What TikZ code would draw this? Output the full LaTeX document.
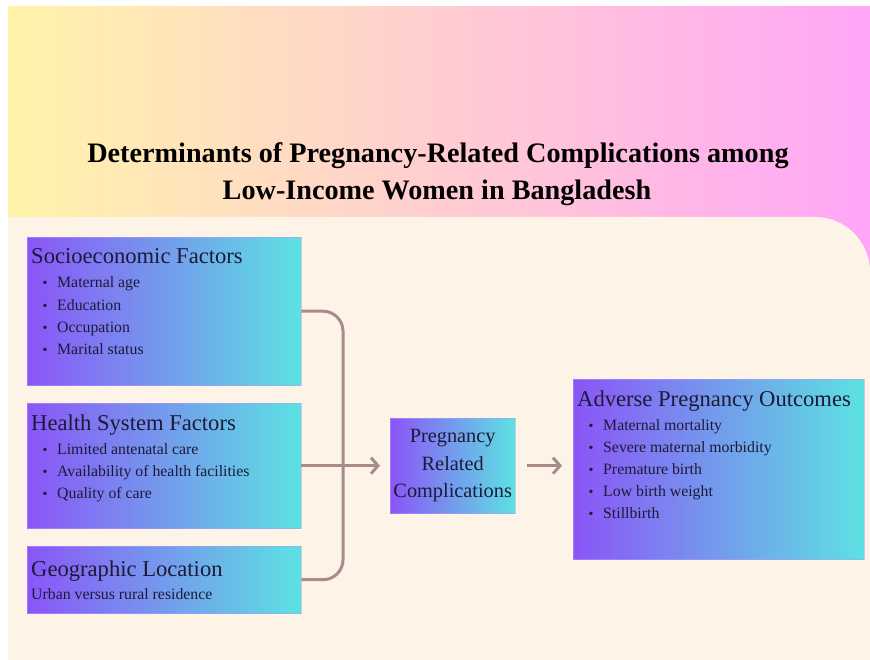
\documentclass[tikz,border=0pt]{standalone}
\usepackage{fontspec}
\setmainfont{Liberation Serif}
\usetikzlibrary{arrows.meta}

\definecolor{BandYellow}{HTML}{FFF4AA}
\definecolor{BandPeach}{HTML}{FFD3CC}
\definecolor{BandPink}{HTML}{FFA6F7}
\definecolor{PanelCream}{HTML}{FDF3E7}
\definecolor{BoxPurple}{HTML}{8B55F7}
\definecolor{BoxCyan}{HTML}{5CE2E2}
\definecolor{LinkBrown}{HTML}{A88C8C}
\definecolor{InkNavy}{HTML}{1C1A38}

\begin{document}
\begin{tikzpicture}[x=1pt,y=-1pt]
\useasboundingbox (0,0) rectangle (870,660);
\fill[white] (0,0) rectangle (870,660);

\coordinate (BandNW) at (8,7);
\coordinate (BandSE) at (870,270);
\coordinate (S_1) at (27,237);
\coordinate (H_1) at (27,403);
\coordinate (G_1) at (27,546);
\coordinate (C_1) at (390,418);
\coordinate (A_1) at (573,379);
\coordinate (Spine) at (343,465);


\shade[left color=BandYellow, middle color=BandPeach, right color=BandPink] (BandNW) rectangle (BandSE);
\fill[PanelCream] (8,660) -- (8,217) [rounded corners=55pt] -- (870,217) [sharp corners] -- (870,660) -- cycle;

\node[font=\fontsize{28.2}{34}\selectfont\bfseries, anchor=base] (T1) at (438,163) {Determinants of Pregnancy-Related Complications among};
\node[font=\fontsize{28.2}{34}\selectfont\bfseries, anchor=base] (T2) at (437,200) {Low-Income Women in Bangladesh};


\tikzset{BoxStyle/.style = {
 left color = BoxPurple,
 right color = BoxCyan,
 draw = white!40!BoxPurple,
 draw opacity = 0.5,
 line width = 0.4pt,
 anchor = north west,
 inner sep = 0pt,
 text = InkNavy} }
\tikzset{HeadStyle/.style = {font=\fontsize{22.6}{26}\selectfont, text=InkNavy, anchor=base west, inner sep=0pt} }
\tikzset{ItemStyle/.style = {font=\fontsize{15.8}{22}\selectfont, text=InkNavy, anchor=base west, inner sep=0pt} }
\tikzset{DotStyle/.style = {font=\fontsize{14}{22}\selectfont, text=InkNavy, anchor=base, inner sep=0pt} }

\node[BoxStyle, minimum width=274pt, minimum height=148pt] (socio) at (S_1) {};
\node[BoxStyle, minimum width=274pt, minimum height=125pt] (health) at (H_1) {};
\node[BoxStyle, minimum width=274pt, minimum height=67pt] (geo) at (G_1) {};
\node[BoxStyle, minimum width=125pt, minimum height=95pt, align=center,
 font=\fontsize{20.3}{27.5}\selectfont] (comp) at (C_1) {Pregnancy\\Related\\Complications};
\node[BoxStyle, minimum width=291pt, minimum height=180pt] (adverse) at (A_1) {};

\node[HeadStyle] (SH) at (31,264) {Socioeconomic Factors};
\node[DotStyle] (SD1) at (45,288) {\textbullet};
\node[ItemStyle] (SI1) at (57,288) {Maternal age};
\node[DotStyle] (SD2) at (45,310) {\textbullet};
\node[ItemStyle] (SI2) at (57,310) {Education};
\node[DotStyle] (SD3) at (45,332) {\textbullet};
\node[ItemStyle] (SI3) at (57,332) {Occupation};
\node[DotStyle] (SD4) at (45,354) {\textbullet};
\node[ItemStyle] (SI4) at (57,354) {Marital status};

\node[HeadStyle] (HH) at (31,430) {Health System Factors};
\node[DotStyle] (HD1) at (45,454) {\textbullet};
\node[ItemStyle] (HI1) at (57,454) {Limited antenatal care};
\node[DotStyle] (HD2) at (45,476) {\textbullet};
\node[ItemStyle] (HI2) at (57,476) {Availability of health facilities};
\node[DotStyle] (HD3) at (45,498) {\textbullet};
\node[ItemStyle] (HI3) at (57,498) {Quality of care};

\node[HeadStyle] (GH) at (31,576) {Geographic Location};
\node[ItemStyle] (GI1) at (31,599) {Urban versus rural residence};

\node[HeadStyle] (AH) at (577,406) {Adverse Pregnancy Outcomes};
\node[DotStyle] (AD1) at (591,430) {\textbullet};
\node[ItemStyle] (AI1) at (603,430) {Maternal mortality};
\node[DotStyle] (AD2) at (591,452) {\textbullet};
\node[ItemStyle] (AI2) at (603,452) {Severe maternal morbidity};
\node[DotStyle] (AD3) at (591,474) {\textbullet};
\node[ItemStyle] (AI3) at (603,474) {Premature birth};
\node[DotStyle] (AD4) at (591,496) {\textbullet};
\node[ItemStyle] (AI4) at (603,496) {Low birth weight};
\node[DotStyle] (AD5) at (591,518) {\textbullet};
\node[ItemStyle] (AI5) at (603,518) {Stillbirth};


\tikzset{LinkStyle/.style = {draw=LinkBrown, line width=3pt} }
\tikzset{TipStyle/.style = {-{Straight Barb[length=7pt,width=16pt]}} }

\draw[LinkStyle, rounded corners=20pt] (socio.east) -| (Spine) |- (geo.east);
\draw[LinkStyle, TipStyle, shorten >=10pt] (health.east) -- (comp.west);
\draw[LinkStyle, TipStyle, shorten <=12pt, shorten >=11pt] (comp.east) -- (adverse.west |- comp.east);

\end{tikzpicture}
\end{document}
